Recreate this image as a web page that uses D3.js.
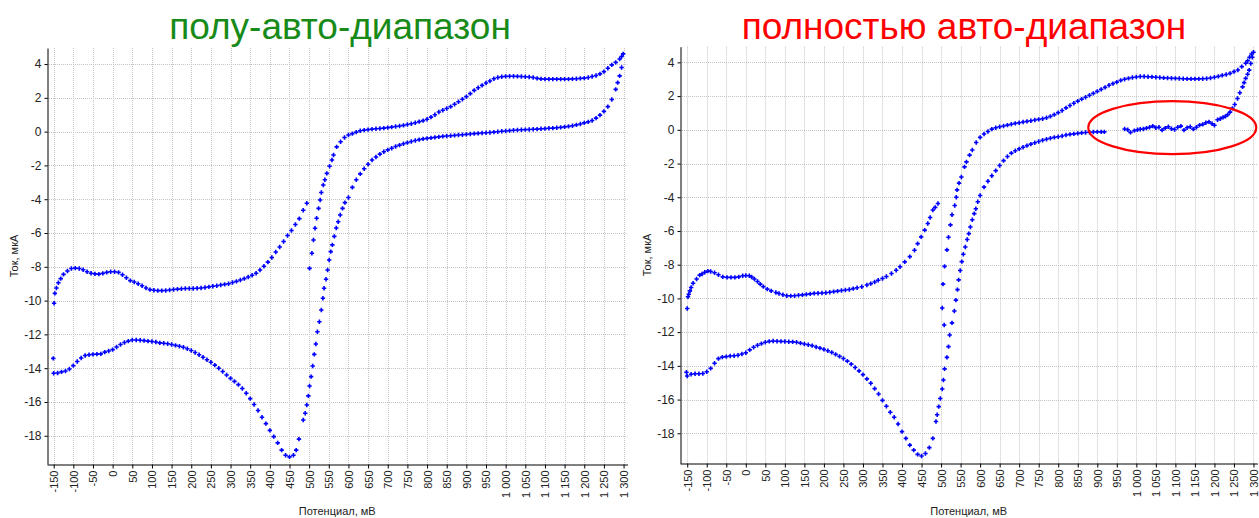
<!DOCTYPE html>
<html>
<head>
<meta charset="utf-8">
<script src="https://cdn.jsdelivr.net/npm/d3@7"></script>
<style>
  body { margin: 0; background: #fff; }
  svg { display: block; }
</style>
</head>
<body>
<svg id="chart" width="1259" height="518"></svg>
<script>
// ---- Axis ticks ----
const xTicks = [-150,-100,-50,0,50,100,150,200,250,300,350,400,450,500,550,600,650,700,750,800,850,900,950,1000,1050,1100,1150,1200,1250,1300];
const yTicks = [4,2,0,-2,-4,-6,-8,-10,-12,-14,-16,-18];
const titles = ["полу-авто-диапазон", "полностью авто-диапазон"];
const xTitle = "Потенциал, мВ";
const yTitle = "Ток, мкА";

// ---- Semi-auto range: [potential mV, current µA] ----
const semiLowerLeft = [[-151,-13.42],[-150,-14.3],[-140,-14.28],[-130,-14.22],[-120,-14.17],[-110,-14.05],[-100,-13.85],[-90,-13.6],[-80,-13.4],[-70,-13.25],[-60,-13.2],[-50,-13.18],[-40,-13.17],[-30,-13.15],[-20,-13.05],[-10,-12.98],[0,-12.9],[10,-12.75],[20,-12.6],[30,-12.48],[40,-12.4],[50,-12.33],[60,-12.33],[70,-12.35],[80,-12.37],[90,-12.4],[100,-12.42],[110,-12.45],[120,-12.5],[130,-12.52],[140,-12.55],[150,-12.6],[160,-12.65],[170,-12.7],[180,-12.76],[190,-12.85],[200,-12.95],[210,-13.07],[220,-13.2],[230,-13.35],[240,-13.5],[250,-13.65],[260,-13.82],[270,-14.0],[280,-14.2],[290,-14.4],[300,-14.6],[310,-14.78],[320,-14.97],[330,-15.2],[340,-15.48],[350,-15.8],[360,-16.15],[370,-16.5],[380,-16.9],[390,-17.28],[400,-17.68],[410,-18.05],[420,-18.42],[430,-18.85],[440,-19.15],[450,-19.25],[460,-19.15],[467,-18.85],[474,-18.2]];
const semiRise = [[485,-17.07],[490,-16.67],[494,-16.18],[498,-15.64],[501,-15.05],[505,-14.5],[509,-13.87],[513,-13.18],[517,-12.57],[521,-11.84],[526,-11.25],[531,-10.56],[535,-9.86],[538,-9.27],[543,-8.74],[547,-8.19],[551,-7.6],[555,-7.1],[559,-6.7],[564,-6.2],[569,-5.7],[574,-5.33],[579,-4.93],[585,-4.54],[591,-4.2]];
const semiLowerRight = [[600,-3.9],[610,-3.3],[620,-2.85],[630,-2.5],[640,-2.2],[650,-1.93],[660,-1.68],[670,-1.5],[680,-1.33],[690,-1.19],[700,-1.08],[710,-0.98],[720,-0.88],[730,-0.8],[740,-0.72],[750,-0.65],[760,-0.58],[770,-0.52],[780,-0.47],[790,-0.43],[800,-0.4],[810,-0.37],[820,-0.34],[830,-0.31],[840,-0.28],[850,-0.26],[860,-0.24],[870,-0.22],[880,-0.2],[890,-0.18],[900,-0.16],[910,-0.14],[920,-0.12],[930,-0.1],[940,-0.08],[950,-0.07],[960,-0.05],[970,-0.03],[980,-0.01],[990,0.02],[1000,0.04],[1010,0.06],[1020,0.08],[1030,0.1],[1040,0.11],[1050,0.12],[1060,0.13],[1070,0.14],[1080,0.15],[1090,0.17],[1100,0.18],[1110,0.2],[1120,0.21],[1130,0.23],[1140,0.25],[1150,0.28],[1160,0.31],[1170,0.35],[1180,0.4],[1190,0.45],[1200,0.52],[1210,0.58],[1220,0.66],[1230,0.8],[1240,0.98],[1250,1.2],[1260,1.48],[1270,1.9],[1280,2.5],[1285,2.9],[1290,3.3],[1295,3.8]];
const semiUpperRight = [[1299,4.6],[1295,4.45],[1290,4.3],[1280,4.1],[1270,3.95],[1260,3.75],[1250,3.55],[1240,3.42],[1230,3.32],[1220,3.26],[1210,3.2],[1200,3.17],[1190,3.15],[1180,3.13],[1170,3.12],[1160,3.11],[1150,3.11],[1140,3.11],[1130,3.11],[1120,3.11],[1110,3.11],[1100,3.11],[1090,3.12],[1080,3.15],[1070,3.2],[1060,3.23],[1050,3.25],[1040,3.26],[1030,3.27],[1020,3.28],[1010,3.28],[1000,3.27],[990,3.25],[980,3.2],[970,3.13],[960,3.0],[950,2.88],[940,2.74],[930,2.6],[920,2.44],[910,2.25],[900,2.07],[890,1.92],[880,1.77],[870,1.62],[860,1.48],[850,1.37],[840,1.27],[830,1.16],[820,1.0],[810,0.86],[800,0.73],[790,0.65],[780,0.59],[770,0.53],[760,0.47],[750,0.42],[740,0.37],[730,0.33],[720,0.3],[710,0.27],[700,0.24],[690,0.21],[680,0.19],[670,0.17],[660,0.15],[650,0.12],[640,0.09],[630,0.05],[620,-0.03],[610,-0.12],[600,-0.2],[590,-0.35],[580,-0.6],[570,-0.9]];
const semiDrop = [[562,-1.38],[558,-1.68],[552,-2.05],[545,-2.47],[540,-2.85],[536,-3.16],[531,-3.6],[528,-4.05],[524,-4.54],[519,-5.13],[515,-5.72],[511,-6.41],[507,-7.2],[501,-8.09]];
const semiUpperLeft = [[494,-4.24],[485,-4.65],[475,-5.15],[465,-5.5],[455,-5.85],[445,-6.15],[435,-6.5],[425,-6.83],[415,-7.12],[405,-7.45],[395,-7.72],[385,-7.97],[375,-8.19],[365,-8.38],[355,-8.5],[345,-8.6],[335,-8.7],[325,-8.78],[315,-8.86],[305,-8.93],[295,-9.0],[285,-9.04],[275,-9.08],[265,-9.12],[255,-9.15],[245,-9.19],[235,-9.22],[225,-9.25],[215,-9.27],[205,-9.28],[195,-9.28],[185,-9.28],[175,-9.3],[165,-9.32],[155,-9.34],[145,-9.37],[135,-9.4],[125,-9.41],[115,-9.41],[105,-9.39],[95,-9.35],[85,-9.25],[75,-9.12],[65,-9.0],[55,-8.9],[45,-8.82],[35,-8.65],[25,-8.47],[15,-8.33],[5,-8.29],[-5,-8.29],[-15,-8.33],[-25,-8.39],[-35,-8.43],[-45,-8.42],[-55,-8.38],[-65,-8.29],[-75,-8.17],[-85,-8.1],[-95,-8.08],[-105,-8.1],[-115,-8.25],[-125,-8.45],[-132,-8.7],[-138,-8.94],[-143,-9.25],[-147,-9.57],[-149,-10.16]];

// ---- Fully-auto range: [potential mV, current µA] ----
const fullLowerLeft = [[-152,-14.38],[-150,-14.6],[-140,-14.5],[-130,-14.47],[-120,-14.47],[-110,-14.45],[-100,-14.35],[-90,-14.15],[-80,-13.85],[-70,-13.57],[-60,-13.48],[-50,-13.45],[-40,-13.42],[-30,-13.4],[-20,-13.37],[-10,-13.3],[0,-13.22],[10,-13.05],[20,-12.9],[30,-12.78],[40,-12.68],[50,-12.6],[60,-12.55],[70,-12.53],[80,-12.54],[90,-12.55],[100,-12.56],[110,-12.57],[120,-12.58],[130,-12.6],[140,-12.65],[150,-12.7],[160,-12.75],[170,-12.8],[180,-12.88],[190,-12.95],[200,-13.02],[210,-13.1],[220,-13.2],[230,-13.32],[240,-13.44],[250,-13.56],[260,-13.72],[270,-13.9],[280,-14.1],[290,-14.3],[300,-14.52],[310,-14.77],[320,-15.03],[330,-15.35],[340,-15.67],[350,-16.05],[360,-16.4],[370,-16.75],[380,-17.05],[390,-17.45],[400,-17.9],[410,-18.3],[420,-18.7],[430,-19.0],[440,-19.25],[450,-19.35],[460,-19.2],[470,-18.85],[479,-18.3]];
const fullRise = [[487,-17.3],[490,-16.9],[494,-16.42],[498,-15.94],[503,-15.37],[506,-14.84],[509,-14.18],[515,-13.5],[519,-12.86],[522,-12.17],[528,-11.45],[534,-10.75],[538,-10.1],[542,-9.48],[545,-8.9],[549,-8.34],[553,-7.82],[557,-7.38],[562,-6.95],[567,-6.51],[571,-6.16],[575,-5.76],[580,-5.33],[585,-4.97],[589,-4.68],[594,-4.27]];
const fullLowerRight = [[600,-3.9],[610,-3.4],[620,-3.05],[630,-2.72],[640,-2.42],[650,-2.12],[660,-1.83],[670,-1.58],[680,-1.38],[690,-1.24],[700,-1.13],[710,-1.03],[720,-0.94],[730,-0.85],[740,-0.77],[750,-0.69],[760,-0.62],[770,-0.56],[780,-0.5],[790,-0.45],[800,-0.41],[810,-0.37],[820,-0.31],[830,-0.27],[840,-0.24],[850,-0.21],[860,-0.18],[870,-0.16],[880,-0.14],[890,-0.13],[900,-0.12],[910,-0.12],[918,-0.12]];
const fullNoisy = [[970,0.05],[978,0.0],[985,-0.15],[995,-0.05],[1003,0.0],[1010,0.03],[1018,0.05],[1026,0.1],[1034,0.15],[1042,0.22],[1050,0.12],[1058,0.15],[1066,-0.02],[1074,0.1],[1082,0.18],[1090,0.06],[1098,0.02],[1106,0.15],[1114,0.22],[1122,-0.02],[1130,0.12],[1138,0.18],[1146,0.04],[1154,0.15],[1162,0.28],[1170,0.32],[1178,0.42],[1186,0.47],[1194,0.36],[1200,0.27],[1208,0.6],[1215,0.66],[1222,0.74],[1228,0.8],[1234,0.9],[1240,1.05],[1246,1.27],[1252,1.5],[1259,1.86],[1265,2.2],[1272,2.55],[1276,2.8],[1280,3.05],[1285,3.3],[1289,3.54],[1293,3.93],[1297,4.3]];
const fullUpperRight = [[1300,4.6],[1295,4.5],[1290,4.3],[1285,4.1],[1280,3.95],[1270,3.75],[1260,3.55],[1250,3.45],[1240,3.35],[1230,3.28],[1220,3.23],[1210,3.17],[1200,3.12],[1190,3.07],[1180,3.04],[1170,3.03],[1160,3.02],[1150,3.02],[1140,3.02],[1130,3.02],[1120,3.03],[1110,3.04],[1100,3.05],[1090,3.06],[1080,3.07],[1070,3.08],[1060,3.1],[1050,3.12],[1040,3.14],[1030,3.15],[1020,3.16],[1010,3.16],[1000,3.13],[990,3.1],[980,3.05],[970,3.0],[960,2.93],[950,2.83],[940,2.74],[930,2.64],[920,2.52],[910,2.4],[900,2.28],[890,2.16],[880,2.05],[870,1.93],[860,1.82],[850,1.7],[840,1.58],[830,1.44],[820,1.3],[810,1.15],[800,1.02],[790,0.9],[780,0.8],[770,0.72],[760,0.66],[750,0.62],[740,0.58],[730,0.54],[720,0.5],[710,0.46],[700,0.42],[690,0.38],[680,0.33],[670,0.28],[660,0.23],[650,0.18],[640,0.12],[630,0.04],[620,-0.1],[610,-0.25],[600,-0.45],[590,-0.75],[580,-1.2]];
const fullDrop = [[573,-1.5],[565,-1.9],[560,-2.2],[552,-2.8],[546,-3.16],[541,-3.56],[539,-4.0],[535,-4.49],[528,-5.04],[524,-5.64],[519,-6.37],[515,-7.12],[509,-8.1],[505,-9.15],[503,-10.57],[508,-11.58]];
const fullUpperLeft = [[492,-4.37],[485,-4.6],[479,-4.76],[472,-5.2],[466,-5.56],[458,-5.95],[449,-6.35],[440,-6.75],[432,-7.14],[420,-7.52],[407,-7.83],[395,-8.12],[385,-8.33],[373,-8.52],[360,-8.7],[350,-8.82],[339,-8.92],[330,-9.03],[320,-9.12],[310,-9.2],[297,-9.31],[285,-9.37],[275,-9.42],[265,-9.47],[255,-9.5],[245,-9.53],[235,-9.57],[225,-9.6],[215,-9.63],[205,-9.66],[195,-9.68],[185,-9.69],[175,-9.7],[165,-9.73],[155,-9.76],[145,-9.79],[135,-9.81],[125,-9.84],[115,-9.85],[105,-9.84],[95,-9.78],[85,-9.71],[77,-9.65],[65,-9.55],[55,-9.45],[45,-9.3],[37,-9.15],[30,-9.0],[22,-8.85],[15,-8.73],[9,-8.66],[0,-8.64],[-8,-8.66],[-18,-8.72],[-28,-8.75],[-38,-8.75],[-48,-8.75],[-59,-8.72],[-70,-8.6],[-80,-8.48],[-90,-8.4],[-97,-8.38],[-105,-8.45],[-112,-8.55],[-118,-8.62],[-126,-8.85],[-135,-9.1],[-140,-9.35],[-143,-9.55],[-146,-9.75],[-148,-9.9],[-150,-10.6]];

// Highlighted region on the fully-auto panel (centre and radii in data units)
const highlight = { mv: 1092, ua: 0.13, rmv: 215, rua: 1.57 };

const semiSeries = [semiLowerLeft, semiRise, semiLowerRight, semiUpperRight, semiDrop, semiUpperLeft];
const fullSeries = [fullLowerLeft, fullRise, fullLowerRight, fullNoisy, fullUpperRight, fullDrop, fullUpperLeft];

// ---- Layout ----
const panels = [
  { series: semiSeries, title: titles[0], titleColor: "#188a18", titleX: 340,
    left: 47, right: 627.5, top: 48, bottom: 464, xDom: [-167, 1310], yDom: [-19.67, 4.95], yTitleX: 14 },
  { series: fullSeries, title: titles[1], titleColor: "#ff0000", titleX: 964,
    left: 680, right: 1257.4, top: 46.7, bottom: 463.3, xDom: [-168.5, 1310], yDom: [-19.78, 4.93], yTitleX: 647, highlight }
];

const locale = d3.formatLocale({ decimal: ",", thousands: " ", grouping: [3], currency: ["", ""], minus: "-" });
const fmtX = locale.format(",d");
const fmtY = locale.format("d");
const FONT = "'Liberation Sans', Arial, sans-serif";

const svg = d3.select("#chart");
const plusPath = "M-2.2,0H2.2M0,-2.2V2.2";

panels.forEach(p => {
  const x = d3.scaleLinear().domain(p.xDom).range([p.left, p.right]);
  const y = d3.scaleLinear().domain(p.yDom).range([p.bottom, p.top]);
  const g = svg.append("g");

  // grid
  const grid = g.append("g").attr("stroke", "#c4c4c4").attr("stroke-width", 1).attr("stroke-dasharray", "1,1");
  grid.selectAll("line.v").data(xTicks).join("line")
    .attr("x1", d => Math.round(x(d)) + 0.5).attr("x2", d => Math.round(x(d)) + 0.5)
    .attr("y1", p.top).attr("y2", p.bottom);
  grid.selectAll("line.h").data(yTicks).join("line")
    .attr("y1", d => Math.round(y(d)) + 0.5).attr("y2", d => Math.round(y(d)) + 0.5)
    .attr("x1", p.left).attr("x2", p.right);

  // axes
  const xAxis = g.append("g").attr("transform", `translate(0,${Math.round(p.bottom) + 0.5})`)
    .call(d3.axisBottom(x).tickValues(xTicks).tickFormat(fmtX).tickSize(4).tickSizeOuter(0));
  xAxis.selectAll("text")
    .attr("transform", "rotate(-90)").attr("text-anchor", "end")
    .attr("x", -6).attr("y", 0).attr("dy", "0.36em")
    .style("font", `11px ${FONT}`).attr("fill", "#222");
  const yAxis = g.append("g").attr("transform", `translate(${Math.round(p.left) + 0.5},0)`)
    .call(d3.axisLeft(y).tickValues(yTicks).tickFormat(fmtY).tickSize(3).tickPadding(3).tickSizeOuter(0));
  yAxis.selectAll("text").style("font", `12px ${FONT}`).attr("fill", "#222");
  [xAxis, yAxis].forEach(a => { a.select(".domain").attr("stroke", "#000"); a.selectAll(".tick line").attr("stroke", "#000"); });

  // points
  const pts = g.append("g").attr("stroke", "#0000ff").attr("stroke-width", 1.6).attr("fill", "none");
  p.series.forEach(s => {
    pts.selectAll(null).data(s).join("path")
      .attr("d", plusPath)
      .attr("transform", d => `translate(${x(d[0])},${y(d[1])})`);
  });

  // highlight ellipse
  if (p.highlight) {
    const h = p.highlight;
    g.append("ellipse")
      .attr("cx", x(h.mv)).attr("cy", y(h.ua))
      .attr("rx", x(h.mv + h.rmv) - x(h.mv)).attr("ry", y(h.ua - h.rua) - y(h.ua))
      .attr("fill", "none").attr("stroke", "#ff0000").attr("stroke-width", 2.2);
  }

  // titles
  g.append("text").attr("x", p.titleX).attr("y", 39).attr("text-anchor", "middle")
    .style("font", `37px ${FONT}`).attr("fill", p.titleColor).text(p.title);
  g.append("text").attr("x", (p.left + p.right) / 2).attr("y", 515).attr("text-anchor", "middle")
    .style("font", `11px ${FONT}`).attr("fill", "#222").text(xTitle);
  g.append("text").attr("transform", `translate(${p.yTitleX},${(p.top + p.bottom) / 2}) rotate(-90)`)
    .attr("text-anchor", "middle").attr("dy", "0.35em")
    .style("font", `11px ${FONT}`).attr("fill", "#222").text(yTitle);
});
</script>
</body>
</html>
